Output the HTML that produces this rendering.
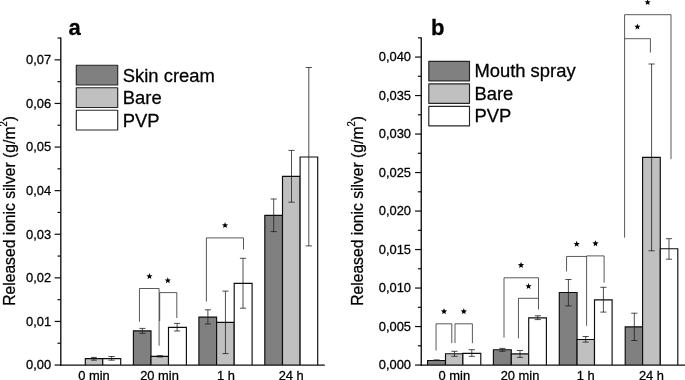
<!DOCTYPE html>
<html><head><meta charset="utf-8"><title>Released ionic silver</title>
<style>
html,body{margin:0;padding:0;background:#fff;}
body{width:685px;height:380px;overflow:hidden;font-family:"Liberation Sans",sans-serif;}
svg{display:block;will-change:transform;opacity:0.999;}
</style></head><body>
<svg width="685" height="380" viewBox="0 0 685 380" font-family="Liberation Sans, sans-serif" fill="#000">
<style>text{stroke:#000;stroke-width:0.28px;stroke-linejoin:round;}</style>
<rect width="685" height="380" fill="#fff"/>
<path d="M85.30,365.05 V358.60 H102.75 V365.05" fill="#c0c0c0" stroke="#0d0d0d" stroke-width="1.15" stroke-linejoin="miter"/>
<path d="M102.75,365.05 V358.60 H120.70 V365.05" fill="#ffffff" stroke="#0d0d0d" stroke-width="1.15" stroke-linejoin="miter"/>
<path d="M133.40,365.05 V330.80 H151.00 V365.05" fill="#808080" stroke="#0d0d0d" stroke-width="1.15" stroke-linejoin="miter"/>
<path d="M151.00,365.05 V356.30 H168.50 V365.05" fill="#c0c0c0" stroke="#0d0d0d" stroke-width="1.15" stroke-linejoin="miter"/>
<path d="M168.50,365.05 V327.40 H186.40 V365.05" fill="#ffffff" stroke="#0d0d0d" stroke-width="1.15" stroke-linejoin="miter"/>
<path d="M198.90,365.05 V317.10 H216.60 V365.05" fill="#808080" stroke="#0d0d0d" stroke-width="1.15" stroke-linejoin="miter"/>
<path d="M216.60,365.05 V322.30 H234.20 V365.05" fill="#c0c0c0" stroke="#0d0d0d" stroke-width="1.15" stroke-linejoin="miter"/>
<path d="M234.20,365.05 V283.40 H252.10 V365.05" fill="#ffffff" stroke="#0d0d0d" stroke-width="1.15" stroke-linejoin="miter"/>
<path d="M264.80,365.05 V215.30 H282.50 V365.05" fill="#808080" stroke="#0d0d0d" stroke-width="1.15" stroke-linejoin="miter"/>
<path d="M282.50,365.05 V176.40 H300.10 V365.05" fill="#c0c0c0" stroke="#0d0d0d" stroke-width="1.15" stroke-linejoin="miter"/>
<path d="M300.10,365.05 V157.00 H317.70 V365.05" fill="#ffffff" stroke="#0d0d0d" stroke-width="1.15" stroke-linejoin="miter"/>
<line x1="93.90" y1="357.40" x2="93.90" y2="360.20" stroke="#1c1c1c" stroke-width="0.78" />
<line x1="91.00" y1="357.40" x2="96.80" y2="357.40" stroke="#1c1c1c" stroke-width="0.78" />
<line x1="91.00" y1="360.20" x2="96.80" y2="360.20" stroke="#1c1c1c" stroke-width="0.78" />
<line x1="111.60" y1="356.50" x2="111.60" y2="360.20" stroke="#1c1c1c" stroke-width="0.78" />
<line x1="108.40" y1="356.50" x2="114.80" y2="356.50" stroke="#1c1c1c" stroke-width="0.78" />
<line x1="108.40" y1="360.20" x2="114.80" y2="360.20" stroke="#1c1c1c" stroke-width="0.78" />
<line x1="142.40" y1="328.40" x2="142.40" y2="333.40" stroke="#1c1c1c" stroke-width="0.78" />
<line x1="139.30" y1="328.40" x2="145.50" y2="328.40" stroke="#1c1c1c" stroke-width="0.78" />
<line x1="139.30" y1="333.40" x2="145.50" y2="333.40" stroke="#1c1c1c" stroke-width="0.78" />
<line x1="159.90" y1="355.60" x2="159.90" y2="357.00" stroke="#1c1c1c" stroke-width="0.78" />
<line x1="156.80" y1="355.60" x2="163.00" y2="355.60" stroke="#1c1c1c" stroke-width="0.78" />
<line x1="156.80" y1="357.00" x2="163.00" y2="357.00" stroke="#1c1c1c" stroke-width="0.78" />
<line x1="177.10" y1="323.40" x2="177.10" y2="331.00" stroke="#1c1c1c" stroke-width="0.78" />
<line x1="174.00" y1="323.40" x2="180.20" y2="323.40" stroke="#1c1c1c" stroke-width="0.78" />
<line x1="174.00" y1="331.00" x2="180.20" y2="331.00" stroke="#1c1c1c" stroke-width="0.78" />
<line x1="207.90" y1="309.80" x2="207.90" y2="324.00" stroke="#1c1c1c" stroke-width="0.78" />
<line x1="204.80" y1="309.80" x2="211.00" y2="309.80" stroke="#1c1c1c" stroke-width="0.78" />
<line x1="204.80" y1="324.00" x2="211.00" y2="324.00" stroke="#1c1c1c" stroke-width="0.78" />
<line x1="225.45" y1="291.10" x2="225.45" y2="353.60" stroke="#1c1c1c" stroke-width="0.78" />
<line x1="222.35" y1="291.10" x2="228.55" y2="291.10" stroke="#1c1c1c" stroke-width="0.78" />
<line x1="222.35" y1="353.60" x2="228.55" y2="353.60" stroke="#1c1c1c" stroke-width="0.78" />
<line x1="243.00" y1="258.30" x2="243.00" y2="308.20" stroke="#1c1c1c" stroke-width="0.78" />
<line x1="239.90" y1="258.30" x2="246.10" y2="258.30" stroke="#1c1c1c" stroke-width="0.78" />
<line x1="239.90" y1="308.20" x2="246.10" y2="308.20" stroke="#1c1c1c" stroke-width="0.78" />
<line x1="273.70" y1="199.00" x2="273.70" y2="231.60" stroke="#1c1c1c" stroke-width="0.78" />
<line x1="270.60" y1="199.00" x2="276.80" y2="199.00" stroke="#1c1c1c" stroke-width="0.78" />
<line x1="270.60" y1="231.60" x2="276.80" y2="231.60" stroke="#1c1c1c" stroke-width="0.78" />
<line x1="291.50" y1="150.40" x2="291.50" y2="202.20" stroke="#1c1c1c" stroke-width="0.78" />
<line x1="288.40" y1="150.40" x2="294.60" y2="150.40" stroke="#1c1c1c" stroke-width="0.78" />
<line x1="288.40" y1="202.20" x2="294.60" y2="202.20" stroke="#1c1c1c" stroke-width="0.78" />
<line x1="308.80" y1="67.50" x2="308.80" y2="245.90" stroke="#1c1c1c" stroke-width="0.78" />
<line x1="305.70" y1="67.50" x2="311.90" y2="67.50" stroke="#1c1c1c" stroke-width="0.78" />
<line x1="305.70" y1="245.90" x2="311.90" y2="245.90" stroke="#1c1c1c" stroke-width="0.78" />
<polyline points="139.45,321.80 139.45,288.50 159.10,288.50 159.10,345.70" fill="none" stroke="#2a2a2a" stroke-width="0.78"/>
<polyline points="159.70,321.00 159.70,292.60 176.80,292.60 176.80,318.00" fill="none" stroke="#2a2a2a" stroke-width="0.78"/>
<polyline points="206.40,301.60 206.40,237.90 243.50,237.90 243.50,249.50" fill="none" stroke="#2a2a2a" stroke-width="0.78"/>
<polygon points="149.45,273.05 150.30,275.13 152.54,275.30 150.83,276.75 151.36,278.93 149.45,277.75 147.54,278.93 148.07,276.75 146.36,275.30 148.60,275.13" fill="#000"/>
<polygon points="167.80,277.30 168.65,279.38 170.89,279.55 169.18,281.00 169.71,283.18 167.80,282.00 165.89,283.18 166.42,281.00 164.71,279.55 166.95,279.38" fill="#000"/>
<polygon points="225.05,222.15 225.90,224.23 228.14,224.40 226.43,225.85 226.96,228.03 225.05,226.85 223.14,228.03 223.67,225.85 221.96,224.40 224.20,224.23" fill="#000"/>
<line x1="60.80" y1="37.40" x2="60.80" y2="365.70" stroke="#0d0d0d" stroke-width="1.35" />
<line x1="60.20" y1="365.05" x2="324.80" y2="365.05" stroke="#0d0d0d" stroke-width="1.35" />
<line x1="54.60" y1="365.05" x2="60.80" y2="365.05" stroke="#0d0d0d" stroke-width="1.2" />
<text x="51.10" y="369.35" font-size="12.9" text-anchor="end" font-weight="normal" >0,00</text>
<line x1="57.50" y1="343.25" x2="60.80" y2="343.25" stroke="#0d0d0d" stroke-width="1.2" />
<line x1="54.60" y1="321.45" x2="60.80" y2="321.45" stroke="#0d0d0d" stroke-width="1.2" />
<text x="51.10" y="325.75" font-size="12.9" text-anchor="end" font-weight="normal" >0,01</text>
<line x1="57.50" y1="299.65" x2="60.80" y2="299.65" stroke="#0d0d0d" stroke-width="1.2" />
<line x1="54.60" y1="277.85" x2="60.80" y2="277.85" stroke="#0d0d0d" stroke-width="1.2" />
<text x="51.10" y="282.15" font-size="12.9" text-anchor="end" font-weight="normal" >0,02</text>
<line x1="57.50" y1="256.05" x2="60.80" y2="256.05" stroke="#0d0d0d" stroke-width="1.2" />
<line x1="54.60" y1="234.25" x2="60.80" y2="234.25" stroke="#0d0d0d" stroke-width="1.2" />
<text x="51.10" y="238.55" font-size="12.9" text-anchor="end" font-weight="normal" >0,03</text>
<line x1="57.50" y1="212.45" x2="60.80" y2="212.45" stroke="#0d0d0d" stroke-width="1.2" />
<line x1="54.60" y1="190.65" x2="60.80" y2="190.65" stroke="#0d0d0d" stroke-width="1.2" />
<text x="51.10" y="194.95" font-size="12.9" text-anchor="end" font-weight="normal" >0,04</text>
<line x1="57.50" y1="168.85" x2="60.80" y2="168.85" stroke="#0d0d0d" stroke-width="1.2" />
<line x1="54.60" y1="147.05" x2="60.80" y2="147.05" stroke="#0d0d0d" stroke-width="1.2" />
<text x="51.10" y="151.35" font-size="12.9" text-anchor="end" font-weight="normal" >0,05</text>
<line x1="57.50" y1="125.25" x2="60.80" y2="125.25" stroke="#0d0d0d" stroke-width="1.2" />
<line x1="54.60" y1="103.45" x2="60.80" y2="103.45" stroke="#0d0d0d" stroke-width="1.2" />
<text x="51.10" y="107.75" font-size="12.9" text-anchor="end" font-weight="normal" >0,06</text>
<line x1="57.50" y1="81.65" x2="60.80" y2="81.65" stroke="#0d0d0d" stroke-width="1.2" />
<line x1="54.60" y1="59.85" x2="60.80" y2="59.85" stroke="#0d0d0d" stroke-width="1.2" />
<text x="51.10" y="64.15" font-size="12.9" text-anchor="end" font-weight="normal" >0,07</text>
<line x1="57.50" y1="38.05" x2="60.80" y2="38.05" stroke="#0d0d0d" stroke-width="1.2" />
<text x="94.00" y="380.10" font-size="12.9" text-anchor="middle" font-weight="normal" >0 min</text>
<text x="159.50" y="380.10" font-size="12.9" text-anchor="middle" font-weight="normal" >20 min</text>
<text x="226.00" y="380.10" font-size="12.9" text-anchor="middle" font-weight="normal" >1 h</text>
<text x="291.20" y="380.10" font-size="12.9" text-anchor="middle" font-weight="normal" >24 h</text>
<rect x="76.30" y="65.20" width="41.40" height="19.80" fill="#808080" stroke="#262626" stroke-width="1.15" stroke-linejoin="round"/>
<text x="122.80" y="81.60" font-size="18.4" text-anchor="start" font-weight="normal" >Skin cream</text>
<rect x="76.30" y="87.70" width="41.40" height="19.80" fill="#c0c0c0" stroke="#262626" stroke-width="1.15" stroke-linejoin="round"/>
<text x="122.80" y="104.10" font-size="18.4" text-anchor="start" font-weight="normal" >Bare</text>
<rect x="76.30" y="110.20" width="41.40" height="19.80" fill="#ffffff" stroke="#262626" stroke-width="1.15" stroke-linejoin="round"/>
<text x="122.80" y="126.60" font-size="18.4" text-anchor="start" font-weight="normal" >PVP</text>
<text x="68.50" y="34.50" font-size="22" text-anchor="start" font-weight="bold" >a</text>
<text transform="translate(15.05,305.8) rotate(-90) scale(0.90,1)" font-size="17.4" text-anchor="start">Released ionic silver (g/m<tspan font-size="10.4" dy="-7.9">2</tspan><tspan dy="7.9">)</tspan></text>
<path d="M427.60,365.05 V360.50 H445.50 V365.05" fill="#808080" stroke="#0d0d0d" stroke-width="1.15" stroke-linejoin="miter"/>
<path d="M445.50,365.05 V353.70 H462.90 V365.05" fill="#c0c0c0" stroke="#0d0d0d" stroke-width="1.15" stroke-linejoin="miter"/>
<path d="M462.90,365.05 V353.40 H480.80 V365.05" fill="#ffffff" stroke="#0d0d0d" stroke-width="1.15" stroke-linejoin="miter"/>
<path d="M493.40,365.05 V349.70 H511.30 V365.05" fill="#808080" stroke="#0d0d0d" stroke-width="1.15" stroke-linejoin="miter"/>
<path d="M511.30,365.05 V353.90 H528.70 V365.05" fill="#c0c0c0" stroke="#0d0d0d" stroke-width="1.15" stroke-linejoin="miter"/>
<path d="M528.70,365.05 V317.90 H546.40 V365.05" fill="#ffffff" stroke="#0d0d0d" stroke-width="1.15" stroke-linejoin="miter"/>
<path d="M559.30,365.05 V292.50 H577.05 V365.05" fill="#808080" stroke="#0d0d0d" stroke-width="1.15" stroke-linejoin="miter"/>
<path d="M577.05,365.05 V339.50 H594.50 V365.05" fill="#c0c0c0" stroke="#0d0d0d" stroke-width="1.15" stroke-linejoin="miter"/>
<path d="M594.50,365.05 V299.90 H612.10 V365.05" fill="#ffffff" stroke="#0d0d0d" stroke-width="1.15" stroke-linejoin="miter"/>
<path d="M625.20,365.05 V326.80 H642.60 V365.05" fill="#808080" stroke="#0d0d0d" stroke-width="1.15" stroke-linejoin="miter"/>
<path d="M642.60,365.05 V157.30 H660.30 V365.05" fill="#c0c0c0" stroke="#0d0d0d" stroke-width="1.15" stroke-linejoin="miter"/>
<path d="M660.30,365.05 V248.70 H677.80 V365.05" fill="#ffffff" stroke="#0d0d0d" stroke-width="1.15" stroke-linejoin="miter"/>
<line x1="436.60" y1="359.90" x2="436.60" y2="360.60" stroke="#1c1c1c" stroke-width="0.78" />
<line x1="433.50" y1="359.90" x2="439.70" y2="359.90" stroke="#1c1c1c" stroke-width="0.78" />
<line x1="433.50" y1="360.60" x2="439.70" y2="360.60" stroke="#1c1c1c" stroke-width="0.78" />
<line x1="454.50" y1="351.30" x2="454.50" y2="356.30" stroke="#1c1c1c" stroke-width="0.78" />
<line x1="451.40" y1="351.30" x2="457.60" y2="351.30" stroke="#1c1c1c" stroke-width="0.78" />
<line x1="451.40" y1="356.30" x2="457.60" y2="356.30" stroke="#1c1c1c" stroke-width="0.78" />
<line x1="471.80" y1="349.70" x2="471.80" y2="356.30" stroke="#1c1c1c" stroke-width="0.78" />
<line x1="468.70" y1="349.70" x2="474.90" y2="349.70" stroke="#1c1c1c" stroke-width="0.78" />
<line x1="468.70" y1="356.30" x2="474.90" y2="356.30" stroke="#1c1c1c" stroke-width="0.78" />
<line x1="502.40" y1="348.40" x2="502.40" y2="351.30" stroke="#1c1c1c" stroke-width="0.78" />
<line x1="499.30" y1="348.40" x2="505.50" y2="348.40" stroke="#1c1c1c" stroke-width="0.78" />
<line x1="499.30" y1="351.30" x2="505.50" y2="351.30" stroke="#1c1c1c" stroke-width="0.78" />
<line x1="520.00" y1="350.50" x2="520.00" y2="357.40" stroke="#1c1c1c" stroke-width="0.78" />
<line x1="516.90" y1="350.50" x2="523.10" y2="350.50" stroke="#1c1c1c" stroke-width="0.78" />
<line x1="516.90" y1="357.40" x2="523.10" y2="357.40" stroke="#1c1c1c" stroke-width="0.78" />
<line x1="537.80" y1="315.80" x2="537.80" y2="319.60" stroke="#1c1c1c" stroke-width="0.78" />
<line x1="534.70" y1="315.80" x2="540.90" y2="315.80" stroke="#1c1c1c" stroke-width="0.78" />
<line x1="534.70" y1="319.60" x2="540.90" y2="319.60" stroke="#1c1c1c" stroke-width="0.78" />
<line x1="568.40" y1="279.50" x2="568.40" y2="305.90" stroke="#1c1c1c" stroke-width="0.78" />
<line x1="565.30" y1="279.50" x2="571.50" y2="279.50" stroke="#1c1c1c" stroke-width="0.78" />
<line x1="565.30" y1="305.90" x2="571.50" y2="305.90" stroke="#1c1c1c" stroke-width="0.78" />
<line x1="585.70" y1="336.50" x2="585.70" y2="342.10" stroke="#1c1c1c" stroke-width="0.78" />
<line x1="582.60" y1="336.50" x2="588.80" y2="336.50" stroke="#1c1c1c" stroke-width="0.78" />
<line x1="582.60" y1="342.10" x2="588.80" y2="342.10" stroke="#1c1c1c" stroke-width="0.78" />
<line x1="603.40" y1="287.30" x2="603.40" y2="312.10" stroke="#1c1c1c" stroke-width="0.78" />
<line x1="600.30" y1="287.30" x2="606.50" y2="287.30" stroke="#1c1c1c" stroke-width="0.78" />
<line x1="600.30" y1="312.10" x2="606.50" y2="312.10" stroke="#1c1c1c" stroke-width="0.78" />
<line x1="634.30" y1="313.20" x2="634.30" y2="340.50" stroke="#1c1c1c" stroke-width="0.78" />
<line x1="631.20" y1="313.20" x2="637.40" y2="313.20" stroke="#1c1c1c" stroke-width="0.78" />
<line x1="631.20" y1="340.50" x2="637.40" y2="340.50" stroke="#1c1c1c" stroke-width="0.78" />
<line x1="651.60" y1="64.00" x2="651.60" y2="250.80" stroke="#1c1c1c" stroke-width="0.78" />
<line x1="648.50" y1="64.00" x2="654.70" y2="64.00" stroke="#1c1c1c" stroke-width="0.78" />
<line x1="648.50" y1="250.80" x2="654.70" y2="250.80" stroke="#1c1c1c" stroke-width="0.78" />
<line x1="669.00" y1="238.70" x2="669.00" y2="259.20" stroke="#1c1c1c" stroke-width="0.78" />
<line x1="665.90" y1="238.70" x2="672.10" y2="238.70" stroke="#1c1c1c" stroke-width="0.78" />
<line x1="665.90" y1="259.20" x2="672.10" y2="259.20" stroke="#1c1c1c" stroke-width="0.78" />
<polyline points="436.05,350.50 436.05,323.80 451.80,323.80 451.80,343.10" fill="none" stroke="#2a2a2a" stroke-width="0.78"/>
<polyline points="455.00,343.10 455.00,323.80 472.40,323.80 472.40,343.20" fill="none" stroke="#2a2a2a" stroke-width="0.78"/>
<polyline points="504.00,337.50 504.00,277.80 538.50,277.80 538.50,309.50" fill="none" stroke="#2a2a2a" stroke-width="0.78"/>
<polyline points="518.45,338.30 518.45,298.30 538.50,298.30" fill="none" stroke="#2a2a2a" stroke-width="0.78"/>
<polyline points="566.55,271.40 566.55,256.45 586.60,256.45" fill="none" stroke="#2a2a2a" stroke-width="0.78"/>
<polyline points="586.60,325.80 586.60,255.90 604.10,255.90 604.10,282.60" fill="none" stroke="#2a2a2a" stroke-width="0.78"/>
<polyline points="624.60,237.60 624.60,14.70 671.00,14.70 671.00,159.20" fill="none" stroke="#2a2a2a" stroke-width="0.78"/>
<polyline points="624.60,38.70 650.40,38.70 650.40,52.60" fill="none" stroke="#2a2a2a" stroke-width="0.78"/>
<polygon points="444.05,308.20 444.90,310.28 447.14,310.45 445.43,311.90 445.96,314.08 444.05,312.90 442.14,314.08 442.67,311.90 440.96,310.45 443.20,310.28" fill="#000"/>
<polygon points="463.80,308.20 464.65,310.28 466.89,310.45 465.18,311.90 465.71,314.08 463.80,312.90 461.89,314.08 462.42,311.90 460.71,310.45 462.95,310.28" fill="#000"/>
<polygon points="521.05,262.00 521.90,264.08 524.14,264.25 522.43,265.70 522.96,267.88 521.05,266.70 519.14,267.88 519.67,265.70 517.96,264.25 520.20,264.08" fill="#000"/>
<polygon points="528.55,283.05 529.40,285.13 531.64,285.30 529.93,286.75 530.46,288.93 528.55,287.75 526.64,288.93 527.17,286.75 525.46,285.30 527.70,285.13" fill="#000"/>
<polygon points="576.70,240.85 577.55,242.93 579.79,243.10 578.08,244.55 578.61,246.73 576.70,245.55 574.79,246.73 575.32,244.55 573.61,243.10 575.85,242.93" fill="#000"/>
<polygon points="595.50,240.25 596.35,242.33 598.59,242.50 596.88,243.95 597.41,246.13 595.50,244.95 593.59,246.13 594.12,243.95 592.41,242.50 594.65,242.33" fill="#000"/>
<polygon points="647.65,-0.85 648.50,1.23 650.74,1.40 649.03,2.85 649.56,5.03 647.65,3.85 645.74,5.03 646.27,2.85 644.56,1.40 646.80,1.23" fill="#000"/>
<polygon points="637.40,23.60 638.25,25.68 640.49,25.85 638.78,27.30 639.31,29.48 637.40,28.30 635.49,29.48 636.02,27.30 634.31,25.85 636.55,25.68" fill="#000"/>
<line x1="421.25" y1="37.40" x2="421.25" y2="365.70" stroke="#0d0d0d" stroke-width="1.35" />
<line x1="420.65" y1="365.05" x2="685.00" y2="365.05" stroke="#0d0d0d" stroke-width="1.35" />
<line x1="415.05" y1="365.05" x2="421.25" y2="365.05" stroke="#0d0d0d" stroke-width="1.2" />
<text x="411.00" y="369.35" font-size="12.9" text-anchor="end" font-weight="normal" >0,000</text>
<line x1="417.95" y1="345.80" x2="421.25" y2="345.80" stroke="#0d0d0d" stroke-width="1.2" />
<line x1="415.05" y1="326.55" x2="421.25" y2="326.55" stroke="#0d0d0d" stroke-width="1.2" />
<text x="411.00" y="330.85" font-size="12.9" text-anchor="end" font-weight="normal" >0,005</text>
<line x1="417.95" y1="307.30" x2="421.25" y2="307.30" stroke="#0d0d0d" stroke-width="1.2" />
<line x1="415.05" y1="288.05" x2="421.25" y2="288.05" stroke="#0d0d0d" stroke-width="1.2" />
<text x="411.00" y="292.35" font-size="12.9" text-anchor="end" font-weight="normal" >0,010</text>
<line x1="417.95" y1="268.80" x2="421.25" y2="268.80" stroke="#0d0d0d" stroke-width="1.2" />
<line x1="415.05" y1="249.55" x2="421.25" y2="249.55" stroke="#0d0d0d" stroke-width="1.2" />
<text x="411.00" y="253.85" font-size="12.9" text-anchor="end" font-weight="normal" >0,015</text>
<line x1="417.95" y1="230.30" x2="421.25" y2="230.30" stroke="#0d0d0d" stroke-width="1.2" />
<line x1="415.05" y1="211.05" x2="421.25" y2="211.05" stroke="#0d0d0d" stroke-width="1.2" />
<text x="411.00" y="215.35" font-size="12.9" text-anchor="end" font-weight="normal" >0,020</text>
<line x1="417.95" y1="191.80" x2="421.25" y2="191.80" stroke="#0d0d0d" stroke-width="1.2" />
<line x1="415.05" y1="172.55" x2="421.25" y2="172.55" stroke="#0d0d0d" stroke-width="1.2" />
<text x="411.00" y="176.85" font-size="12.9" text-anchor="end" font-weight="normal" >0,025</text>
<line x1="417.95" y1="153.30" x2="421.25" y2="153.30" stroke="#0d0d0d" stroke-width="1.2" />
<line x1="415.05" y1="134.05" x2="421.25" y2="134.05" stroke="#0d0d0d" stroke-width="1.2" />
<text x="411.00" y="138.35" font-size="12.9" text-anchor="end" font-weight="normal" >0,030</text>
<line x1="417.95" y1="114.80" x2="421.25" y2="114.80" stroke="#0d0d0d" stroke-width="1.2" />
<line x1="415.05" y1="95.55" x2="421.25" y2="95.55" stroke="#0d0d0d" stroke-width="1.2" />
<text x="411.00" y="99.85" font-size="12.9" text-anchor="end" font-weight="normal" >0,035</text>
<line x1="417.95" y1="76.30" x2="421.25" y2="76.30" stroke="#0d0d0d" stroke-width="1.2" />
<line x1="415.05" y1="57.05" x2="421.25" y2="57.05" stroke="#0d0d0d" stroke-width="1.2" />
<text x="411.00" y="61.35" font-size="12.9" text-anchor="end" font-weight="normal" >0,040</text>
<line x1="417.95" y1="37.80" x2="421.25" y2="37.80" stroke="#0d0d0d" stroke-width="1.2" />
<text x="454.30" y="380.10" font-size="12.9" text-anchor="middle" font-weight="normal" >0 min</text>
<text x="520.00" y="380.10" font-size="12.9" text-anchor="middle" font-weight="normal" >20 min</text>
<text x="585.80" y="380.10" font-size="12.9" text-anchor="middle" font-weight="normal" >1 h</text>
<text x="651.50" y="380.10" font-size="12.9" text-anchor="middle" font-weight="normal" >24 h</text>
<rect x="428.80" y="61.30" width="40.70" height="19.50" fill="#808080" stroke="#262626" stroke-width="1.15" stroke-linejoin="round"/>
<text x="474.40" y="77.30" font-size="18.4" text-anchor="start" font-weight="normal" >Mouth spray</text>
<rect x="428.80" y="83.80" width="40.70" height="19.50" fill="#c0c0c0" stroke="#262626" stroke-width="1.15" stroke-linejoin="round"/>
<text x="474.40" y="99.80" font-size="18.4" text-anchor="start" font-weight="normal" >Bare</text>
<rect x="428.80" y="106.30" width="40.70" height="19.50" fill="#ffffff" stroke="#262626" stroke-width="1.15" stroke-linejoin="round"/>
<text x="474.40" y="122.30" font-size="18.4" text-anchor="start" font-weight="normal" >PVP</text>
<text x="431.00" y="34.50" font-size="22" text-anchor="start" font-weight="bold" >b</text>
<text transform="translate(362.9,305.8) rotate(-90) scale(0.90,1)" font-size="17.4" text-anchor="start">Released ionic silver (g/m<tspan font-size="10.4" dy="-7.9">2</tspan><tspan dy="7.9">)</tspan></text>
</svg>
</body></html>
